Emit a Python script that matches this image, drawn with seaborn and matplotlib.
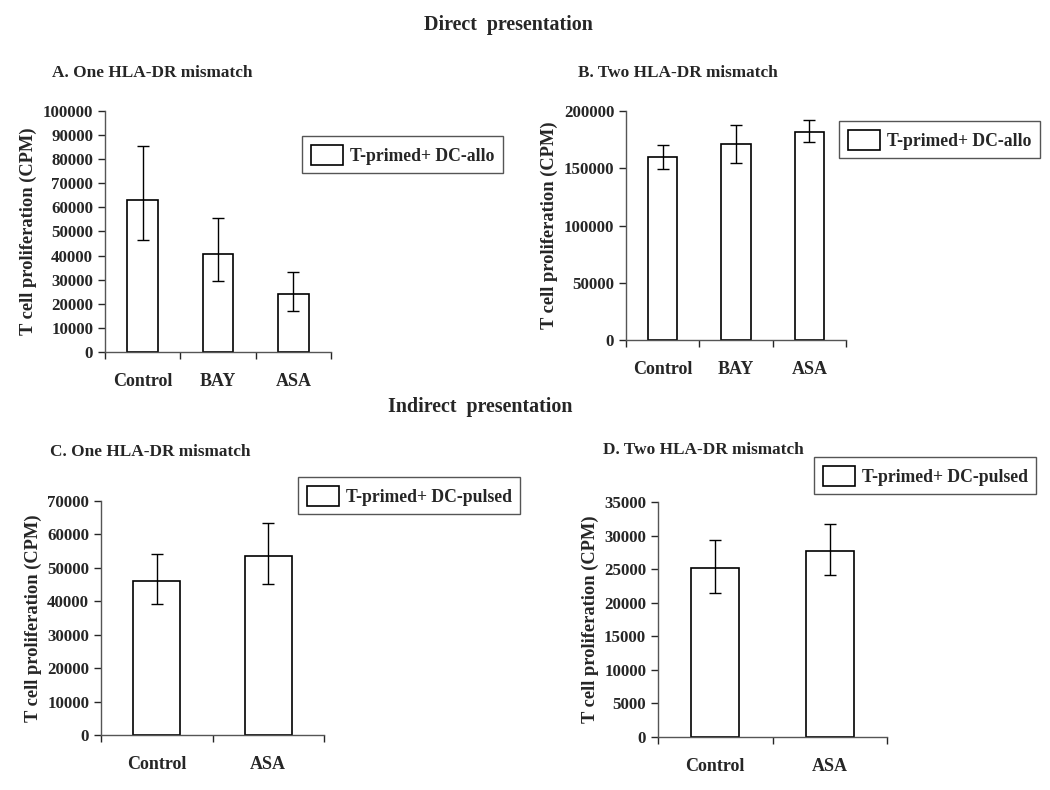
import matplotlib
matplotlib.use("Agg")
import matplotlib.pyplot as plt
import seaborn as sns

sns.set_style("ticks")
plt.rcParams["font.family"] = ["Liberation Serif", "DejaVu Serif"]
plt.rcParams["font.weight"] = "bold"
plt.rcParams["axes.labelweight"] = "bold"

# panel A: direct, one HLA-DR mismatch
cats_a = ["Control", "BAY", "ASA"]
mean_a = [63000, 40500, 24000]
low_a = [46500, 29500, 17000]
high_a = [85500, 55500, 33000]

# panel B: direct, two HLA-DR mismatch
cats_b = ["Control", "BAY", "ASA"]
mean_b = [160000, 171000, 182000]
low_b = [149000, 155000, 173000]
high_b = [170000, 188000, 192000]

# panel C: indirect, one HLA-DR mismatch
cats_c = ["Control", "ASA"]
mean_c = [46200, 53600]
low_c = [39200, 45300]
high_c = [54000, 63500]

# panel D: indirect, two HLA-DR mismatch
cats_d = ["Control", "ASA"]
mean_d = [25100, 27700]
low_d = [21400, 24100]
high_d = [29300, 31700]

fig = plt.figure(figsize=(10.5, 7.9), dpi=100)
W, H = 1050, 790


def px_axes(x0, y0, x1, y1):
    return fig.add_axes([x0 / W, 1 - y1 / H, (x1 - x0) / W, (y1 - y0) / H])


def panel(ax, cats, mean, low, high, ymax, step, width, label, leg_xy, title, title_xy):
    sns.barplot(x=cats, y=mean, ax=ax, color="white", edgecolor="black",
                linewidth=1.2, width=width, label=label, saturation=1)
    yerr = [[m - l for m, l in zip(mean, low)], [h - m for m, h in zip(mean, high)]]
    ax.errorbar(range(len(cats)), mean, yerr=yerr, fmt="none", ecolor="black",
                elinewidth=1, capsize=4, capthick=1)
    n = len(cats)
    ax.set_xlim(-0.5, n - 0.5)
    ax.set_ylim(0, ymax)
    ax.set_yticks(range(0, ymax + 1, step))
    ax.set_xticks([i - 0.5 for i in range(n + 1)])
    ax.set_xticklabels([])
    ax.set_xticks(range(n), minor=True)
    ax.set_xticklabels(cats, minor=True, fontsize=13, fontweight="bold")
    ax.tick_params(axis="x", which="minor", length=0, pad=15)
    ax.tick_params(axis="x", which="major", length=5, width=1, direction="out")
    ax.tick_params(axis="y", length=5, width=1, direction="out", labelsize=12.2)
    for t in ax.get_yticklabels():
        t.set_fontweight("bold")
    ax.spines["top"].set_visible(False)
    ax.spines["right"].set_visible(False)
    for s in ("left", "bottom"):
        ax.spines[s].set_color("#555555")
        ax.spines[s].set_linewidth(1)
    ax.set_ylabel("T cell proliferation (CPM)", fontsize=13.3, fontweight="bold")
    leg = ax.legend(loc="upper left", bbox_to_anchor=(leg_xy[0] / W, 1 - leg_xy[1] / H),
                    bbox_transform=fig.transFigure, borderaxespad=0, fancybox=False,
                    edgecolor="#555555", framealpha=1, fontsize=12.7,
                    handlelength=1.8, handleheight=1.35, handletextpad=0.4,
                    borderpad=0.5)
    leg.get_frame().set_linewidth(1)
    fig.text(title_xy[0] / W, 1 - title_xy[1] / H, title, fontsize=12.4,
             fontweight="bold", va="center", ha="left")


ax_a = px_axes(105, 111, 331, 352)
panel(ax_a, cats_a, mean_a, low_a, high_a, 100000, 10000, 0.41,
      "T-primed+ DC-allo", (302, 136), "A. One HLA-DR mismatch", (52, 73))

ax_b = px_axes(626, 111, 846, 340)
panel(ax_b, cats_b, mean_b, low_b, high_b, 200000, 50000, 0.40,
      "T-primed+ DC-allo", (839, 121), "B. Two HLA-DR mismatch", (578, 73))

ax_c = px_axes(101, 501, 324, 735)
panel(ax_c, cats_c, mean_c, low_c, high_c, 70000, 10000, 0.42,
      "T-primed+ DC-pulsed", (298, 477), "C. One HLA-DR mismatch", (50, 452))

ax_d = px_axes(658, 502, 887, 737)
panel(ax_d, cats_d, mean_d, low_d, high_d, 35000, 5000, 0.42,
      "T-primed+ DC-pulsed", (814, 457), "D. Two HLA-DR mismatch", (603, 450))

fig.text(508 / W, 1 - 25 / H, "Direct  presentation", fontsize=14.4,
         fontweight="bold", ha="center", va="center")
fig.text(480 / W, 1 - 407 / H, "Indirect  presentation", fontsize=14.4,
         fontweight="bold", ha="center", va="center")

fig.savefig("out.png", dpi=100)
